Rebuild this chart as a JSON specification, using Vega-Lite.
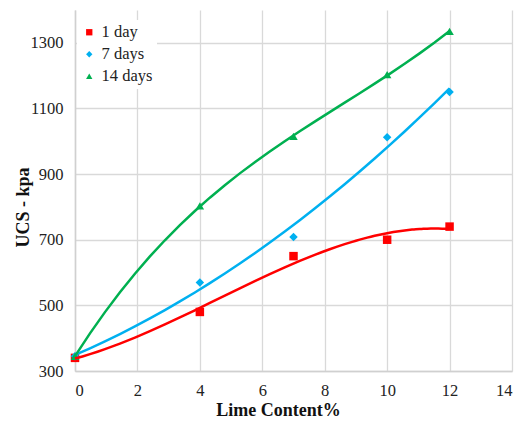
{
  "$schema": "https://vega.github.io/schema/vega-lite/v6.json",
  "width": 437,
  "height": 361,
  "autosize": "none",
  "padding": {"left": 75, "top": 10, "right": 15, "bottom": 50},
  "background": "white",
  "config": {
    "font": "'Liberation Serif', 'Times New Roman', Times, serif",
    "view": {"stroke": null},
    "axis": {
      "labelFont": "'Liberation Serif', 'Times New Roman', Times, serif",
      "titleFont": "'Liberation Serif', 'Times New Roman', Times, serif",
      "labelFontSize": 16.5,
      "titleFontSize": 18,
      "titleFontWeight": "bold",
      "labelColor": "#222",
      "titleColor": "#111",
      "gridColor": "#d9d9d9",
      "gridWidth": 1.3,
      "domainColor": "#d0d0d0",
      "domainWidth": 1.5,
      "ticks": false
    },
    "legend": {
      "labelFont": "'Liberation Serif', 'Times New Roman', Times, serif"
    }
  },
  "data": {
    "values": [
      {"series": "1 day", "x": 0, "y": 340},
      {"series": "1 day", "x": 4, "y": 480},
      {"series": "1 day", "x": 7, "y": 650},
      {"series": "1 day", "x": 10, "y": 700},
      {"series": "1 day", "x": 12, "y": 740},
      {"series": "7 days", "x": 0, "y": 345},
      {"series": "7 days", "x": 4, "y": 570},
      {"series": "7 days", "x": 7, "y": 708},
      {"series": "7 days", "x": 10, "y": 1012},
      {"series": "7 days", "x": 12, "y": 1150},
      {"series": "14 days", "x": 0, "y": 345},
      {"series": "14 days", "x": 4, "y": 803},
      {"series": "14 days", "x": 7, "y": 1015},
      {"series": "14 days", "x": 10, "y": 1203},
      {"series": "14 days", "x": 12, "y": 1335}
    ]
  },
  "layer": [
    {
      "mark": {"type": "point", "filled": true, "size": 72, "opacity": 1},
      "encoding": {
        "x": {
          "field": "x", "type": "quantitative",
          "scale": {"domain": [0, 14]},
          "axis": {"values": [0, 2, 4, 6, 8, 10, 12, 14], "format": "d", "title": "Lime Content%", "labelPadding": 11, "titleX": 203, "titleY": 44, "titleBaseline": "alphabetic", "titleAnchor": "middle", "titleAlign": "center"}
        },
        "y": {
          "field": "y", "type": "quantitative",
          "scale": {"domain": [300, 1400], "nice": false},
          "axis": {"values": [300, 500, 700, 900, 1100, 1300], "format": "d", "title": "UCS - kpa", "labelPadding": 12, "titleX": -43, "titleY": 197, "titleAngle": 270, "titleAlign": "center", "titleBaseline": "bottom"}
        },
        "color": {
          "field": "series", "type": "nominal",
          "scale": {"domain": ["1 day", "7 days", "14 days"], "range": ["#ff0000", "#00b0f0", "#00b050"]},
          "legend": {
            "title": null,
            "orient": "none",
            "legendX": 2,
            "legendY": 10,
            "fillColor": "white",
            "padding": 4,
            "labelFontSize": 16.5,
            "labelColor": "#222",
            "symbolSize": 40,
            "rowPadding": 5,
            "labelOffset": 4
          }
        },
        "shape": {
          "field": "series", "type": "nominal",
          "scale": {"domain": ["1 day", "7 days", "14 days"], "range": ["square", "diamond", "triangle-up"]}
        }
      }
    },
    {
      "transform": [
        {"filter": "datum.series === '1 day'"},
        {"regression": "y", "on": "x", "method": "poly", "order": 3, "extent": [0, 12]}
      ],
      "mark": {"type": "line", "color": "#ff0000", "strokeWidth": 2.5},
      "encoding": {
        "x": {"field": "x", "type": "quantitative"},
        "y": {"field": "y", "type": "quantitative"}
      }
    },
    {
      "transform": [
        {"filter": "datum.series === '7 days'"},
        {"regression": "y", "on": "x", "method": "poly", "order": 2, "extent": [0, 12]}
      ],
      "mark": {"type": "line", "color": "#00b0f0", "strokeWidth": 2.5},
      "encoding": {
        "x": {"field": "x", "type": "quantitative"},
        "y": {"field": "y", "type": "quantitative"}
      }
    },
    {
      "transform": [
        {"filter": "datum.series === '14 days'"},
        {"regression": "y", "on": "x", "method": "poly", "order": 3, "extent": [0, 12]}
      ],
      "mark": {"type": "line", "color": "#00b050", "strokeWidth": 2.5},
      "encoding": {
        "x": {"field": "x", "type": "quantitative"},
        "y": {"field": "y", "type": "quantitative"}
      }
    }
  ]
}
